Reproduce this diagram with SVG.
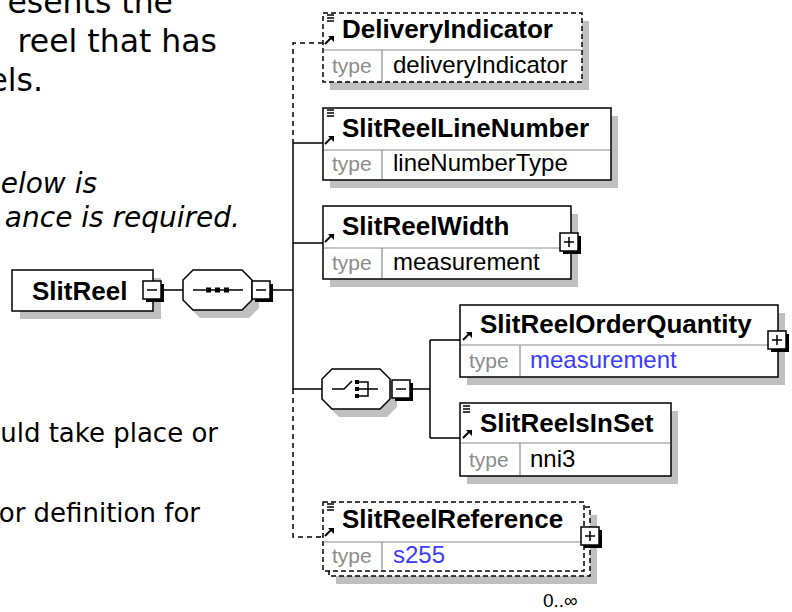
<svg xmlns="http://www.w3.org/2000/svg" width="792" height="612" viewBox="0 0 792 612">
<defs>
<style>
.prose{font-family:"DejaVu Sans",Verdana,sans-serif;fill:#000}
.it{font-style:italic}
.nm{font-family:"Liberation Sans",Arial,sans-serif;font-weight:bold;font-size:26px;fill:#000}
.tl{font-family:"Liberation Sans",Arial,sans-serif;font-size:21px;fill:#8c8c8c}
.tv{font-family:"Liberation Sans",Arial,sans-serif;font-size:24px;fill:#000}
.blue{fill:#3b3bff}
.occ{font-family:"Liberation Sans",Arial,sans-serif;font-size:19px;fill:#000}
.sh{fill:#c0c0c0}
.box{fill:#fff;stroke:#000;stroke-width:1.5}
.opt{stroke-dasharray:5 3}
.dv{stroke:#8c8c8c;stroke-width:1.2;fill:none}
.ln{stroke:#000;stroke-width:1.5;fill:none}
.dash{stroke-dasharray:5 4}
</style>
<g id="ref"><path d="M0,8 L6,2" stroke="#000" stroke-width="2" fill="none"/><polygon points="3,0 9,0 9,6" fill="#000"/></g>
<g id="doc"><path d="M0,1H7M0,4H7M0,7H7" stroke="#000" stroke-width="1.4" fill="none"/></g>
<g id="minus"><rect x="3" y="3" width="18" height="18" fill="#000"/><rect x="0" y="0" width="18" height="18" fill="#fff" stroke="#000" stroke-width="1.5"/><path d="M4,9H14" stroke="#000" stroke-width="1.5"/></g>
<g id="plus"><rect x="3" y="3" width="18" height="18" fill="#000"/><rect x="0" y="0" width="18" height="18" fill="#fff" stroke="#000" stroke-width="1.5"/><path d="M4,9H14M9,4V14" stroke="#000" stroke-width="1.5"/></g>
</defs>

<g id="prose-text">
<text class="prose" font-size="31.5" x="173" y="13" text-anchor="end">esents the</text>
<text class="prose" font-size="31.5" x="217" y="52" text-anchor="end">reel that has</text>
<text class="prose" font-size="31.5" x="43" y="91" text-anchor="end">els.</text>
<text class="prose it" font-size="28" x="97" y="193" text-anchor="end">elow is</text>
<text class="prose it" font-size="28" x="240" y="227" text-anchor="end">ance is required.</text>
<text class="prose" font-size="26" x="218" y="442" text-anchor="end">uld take place or</text>
<text class="prose" font-size="26" x="200" y="522" text-anchor="end">or definition for</text>
</g>

<g id="connectors">
<path class="ln" d="M161,290H183"/>
<path class="ln" d="M271,290H293"/>
<path class="ln" d="M293,143V389"/>
<path class="ln" d="M293,143H323M293,243H323M293,389H322"/>
<path class="ln dash" d="M323,43H293V143"/>
<path class="ln dash" d="M293,389V537H323"/>
<path class="ln" d="M410,389H430M430,340V438M430,340H460M430,438H460"/>
</g>

<g id="SlitReel">
<rect class="sh" x="20" y="278" width="141" height="41"/>
<rect class="box" x="12" y="270" width="141" height="41"/>
<text class="nm" x="32" y="300">SlitReel</text>
<use href="#minus" x="143" y="281"/>
</g>

<g id="sequence">
<path class="sh" d="M200,278H249L259,288V308L249,318H200L190,308V288Z"/>
<path class="box" d="M193,270H242L252,280V300L242,310H193L183,300V280Z"/>
<path class="ln" d="M193,290H243"/>
<rect x="206" y="287.5" width="5" height="5" fill="#000"/>
<rect x="215" y="287.5" width="5" height="5" fill="#000"/>
<rect x="224" y="287.5" width="5" height="5" fill="#000"/>
<use href="#minus" x="252" y="281"/>
</g>

<g id="choice">
<path class="sh" d="M339,377H387L397,387V407L387,417H339L329,407V387Z"/>
<path class="box" d="M332,369H380L390,379V399L380,409H332L322,399V379Z"/>
<path class="ln" d="M332,389H344L352,381"/>
<rect x="355" y="380" width="4" height="4" fill="#000"/>
<rect x="355" y="387" width="4" height="4" fill="#000"/>
<rect x="355" y="394" width="4" height="4" fill="#000"/>
<path class="ln" d="M359,382H368V396H359M359,389H378"/>
<use href="#minus" x="392" y="380"/>
</g>

<g id="DeliveryIndicator">
<rect class="sh" x="330" y="21" width="259" height="69"/>
<rect class="box opt" x="323" y="13" width="259" height="69"/>
<path class="dv" d="M324,50H581M382,50V81"/>
<use href="#doc" x="327" y="14"/>
<use href="#ref" x="325" y="36"/>
<text class="nm" x="342" y="38">DeliveryIndicator</text>
<text class="tl" x="332" y="73">type</text>
<text class="tv" x="393" y="73">deliveryIndicator</text>
</g>

<g id="SlitReelLineNumber">
<rect class="sh" x="330" y="116" width="288" height="72"/>
<rect class="box" x="323" y="108" width="288" height="72"/>
<path class="dv" d="M324,150H610M382,150V179"/>
<use href="#doc" x="327" y="109"/>
<use href="#ref" x="325" y="136"/>
<text class="nm" x="342" y="137">SlitReelLineNumber</text>
<text class="tl" x="332" y="171">type</text>
<text class="tv" x="393" y="171">lineNumberType</text>
</g>

<g id="SlitReelWidth">
<rect class="sh" x="330" y="214" width="248" height="73"/>
<rect class="box" x="323" y="206" width="248" height="73"/>
<path class="dv" d="M324,248H570M382,248V278"/>
<use href="#ref" x="325" y="234"/>
<text class="nm" x="342" y="235">SlitReelWidth</text>
<text class="tl" x="332" y="270">type</text>
<text class="tv" x="393" y="270">measurement</text>
<use href="#plus" x="560" y="233"/>
</g>

<g id="SlitReelOrderQuantity">
<rect class="sh" x="467" y="313" width="318" height="72"/>
<rect class="box" x="460" y="305" width="318" height="72"/>
<path class="dv" d="M461,345H777M520,345V376"/>
<use href="#ref" x="463" y="332"/>
<text class="nm" x="480" y="333">SlitReelOrderQuantity</text>
<text class="tl" x="469" y="368">type</text>
<text class="tv blue" x="530" y="368">measurement</text>
<use href="#plus" x="768" y="331"/>
</g>

<g id="SlitReelsInSet">
<rect class="sh" x="467" y="411" width="211" height="73"/>
<rect class="box" x="460" y="403" width="211" height="73"/>
<path class="dv" d="M461,443H670M520,443V475"/>
<use href="#doc" x="463" y="405"/>
<use href="#ref" x="463" y="430"/>
<text class="nm" x="480" y="432">SlitReelsInSet</text>
<text class="tl" x="469" y="467">type</text>
<text class="tv" x="530" y="467">nni3</text>
</g>

<g id="SlitReelReference">
<rect class="sh" x="336" y="515" width="261" height="69"/>
<rect class="box opt" x="329" y="507" width="261" height="69"/>
<rect class="box opt" x="323" y="502" width="261" height="69"/>
<path class="dv" d="M324,542H583M382,542V570"/>
<use href="#doc" x="327" y="503"/>
<use href="#ref" x="325" y="528"/>
<text class="nm" x="342" y="528">SlitReelReference</text>
<text class="tl" x="332" y="563">type</text>
<text class="tv blue" x="393" y="563">s255</text>
<use href="#plus" x="581" y="527"/>
<text class="occ" x="543" y="607">0..∞</text>
</g>
</svg>
